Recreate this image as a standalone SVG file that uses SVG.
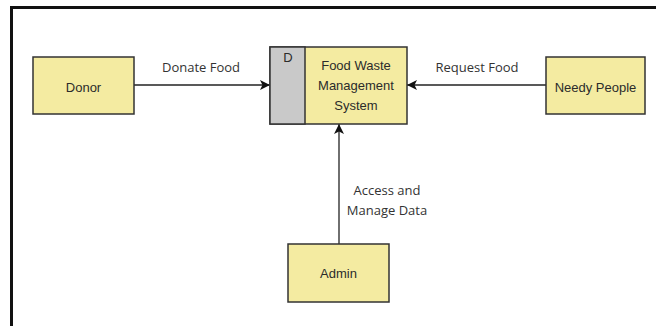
<svg xmlns="http://www.w3.org/2000/svg" width="656" height="326" viewBox="0 0 656 326">
<style>
.box{fill:#f4eba1;stroke:#333;stroke-width:1.5}
.gray{fill:#c9c9c9;stroke:#333;stroke-width:1.5}
.nt{font-family:"Liberation Sans",Arial,sans-serif;font-size:13px;fill:#2b2b2b;text-anchor:middle}
.lt{font-family:"Open Sans","Liberation Sans",sans-serif;font-size:13px;fill:#333;text-anchor:middle}
.edge{stroke:#222;stroke-width:1.3;fill:none;marker-end:url(#ah)}
</style>
<defs>
<marker id="ah" viewBox="0 0 10 10" refX="10" refY="5" markerWidth="10" markerHeight="10" markerUnits="userSpaceOnUse" orient="auto">
<path d="M0,0 L10,5 L0,10 L2.5,5 Z" fill="#111"/>
</marker>
</defs>
<rect x="0" y="0" width="656" height="326" fill="#fff"/>
<path d="M11.5,326 V7.5 H656" fill="none" stroke="#111" stroke-width="3"/>
<g id="connectors">
<line class="edge" x1="134" y1="85" x2="270" y2="85"/>
<line class="edge" x1="546" y1="85" x2="407" y2="85"/>
<line class="edge" x1="339" y1="244" x2="339" y2="124"/>
<text class="lt" x="201" y="72">Donate Food</text>
<text class="lt" x="477" y="72">Request Food</text>
<text class="lt" x="387" y="195">Access and</text>
<text class="lt" x="387" y="215">Manage Data</text>
</g>
<g id="donor">
<rect class="box" x="33" y="57" width="101" height="57"/>
<text class="nt" x="83.5" y="91.5">Donor</text>
</g>
<g id="system">
<rect class="box" x="270" y="47" width="137" height="77"/>
<rect class="gray" x="270" y="47" width="35" height="77"/>
<text class="nt" x="288" y="62">D</text>
<text class="nt" x="356" y="70">Food Waste</text>
<text class="nt" x="356" y="90">Management</text>
<text class="nt" x="356" y="110">System</text>
</g>
<g id="needy">
<rect class="box" x="546" y="57" width="99" height="57"/>
<text class="nt" x="595.5" y="91.5">Needy People</text>
</g>
<g id="admin">
<rect class="box" x="288" y="244" width="101" height="58"/>
<text class="nt" x="338.5" y="278">Admin</text>
</g>
</svg>
